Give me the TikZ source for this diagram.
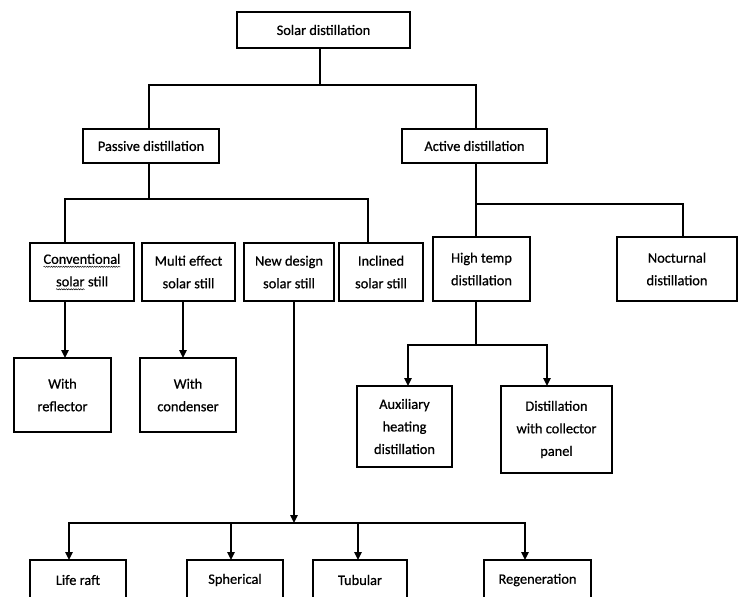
\documentclass[tikz,border=0pt]{standalone}
\usepackage{fontspec}
\setmainfont{Carlito}[FakeBold=0.7]
\usetikzlibrary{arrows.meta,decorations.pathmorphing}
\newcommand\wavy[1]{\tikz[baseline=(w.base),x=1cm,y=1cm]{\node[draw=none,inner sep=0pt,outer sep=0pt,minimum width=0pt,minimum height=0pt,align=left](w){#1};\draw[line width=0.35pt,decorate,decoration={snake,amplitude=0.45pt,segment length=1.8pt}]([yshift=-2.2pt]w.base west)--([yshift=-2.2pt]w.base east);}}
\begin{document}
\begin{tikzpicture}[x=0.75pt,y=-0.75pt,
  box/.style={draw,line width=1.2pt,align=center,inner sep=0pt,outer sep=0pt,
    font=\fontsize{10.8}{16.9}\selectfont},
  wh/.style 2 args={minimum width=#1*0.75pt,minimum height=#2*0.75pt},
  conn/.style={line width=1.1pt},
  arr/.style={conn,-{Triangle[length=6pt,width=5.5pt]}}]
\useasboundingbox (0,0) rectangle (742,596);
\clip (0,0) rectangle (742,596);
% nodes
\node[box,wh={173}{36}] (solar) at (323.5,30) {Solar distillation};
\node[box,wh={136}{34}] (passive) at (151,146) {Passive distillation};
\node[box,wh={145}{34}] (active) at (474.5,146) {Active distillation};
\node[box,wh={104}{58}] (conv) at (82,272) {\wavy{Conventional}\\\wavy{solar} still};
\node[box,wh={93}{58}] (multi) at (188.5,272) {Multi effect\\solar still};
\node[box,wh={90}{58}] (newd) at (289,272) {New design\\solar still};
\node[box,wh={84}{58}] (incl) at (381,272) {Inclined\\solar still};
\node[box,wh={97}{64}] (hight) at (481.5,269) {High temp\\distillation};
\node[box,wh={120}{64}] (noct) at (677,269) {Nocturnal\\distillation};
\node[box,wh={97}{74}] (refl) at (62.5,395) {With\\reflector};
\node[box,wh={96}{74}] (cond) at (188,395) {With\\condenser};
\node[box,wh={95}{81}] (aux) at (404.5,426.5) {Auxiliary\\heating\\distillation};
\node[box,wh={111}{87}] (coll) at (556.5,429.5) {Distillation\\with collector\\panel};
\node[box,wh={96}{40}] (life) at (78,580) {Life raft};
\node[box,wh={96}{40}] (sph) at (235,580) {Spherical};
\node[box,wh={94}{40}] (tub) at (360,580) {Tubular};
\node[box,wh={107}{40}] (regen) at (537.5,580) {Regeneration};
% helper coordinates
\coordinate (j0) at (320,85);
\coordinate (xp) at (149,0);
\coordinate (xa) at (476,0);
\coordinate (j1) at (149,199);
\coordinate (xc) at (65,0);
\coordinate (xi) at (368,0);
\coordinate (j2) at (476,204);
\coordinate (xn) at (683,0);
\coordinate (j3) at (476,345);
\coordinate (xau) at (408,0);
\coordinate (xco) at (547,0);
\coordinate (xm) at (183,0);
\coordinate (xd) at (294,0);
\coordinate (j4) at (294,523);
\coordinate (xl) at (69,0);
\coordinate (xs) at (231,0);
\coordinate (xt) at (358,0);
\coordinate (xr) at (525,0);
% connectors
\draw[conn] (solar.south -| j0) -- (j0);
\draw[conn] (passive.north -| xp) |- (j0) -| (active.north -| xa);
\draw[conn] (passive.south -| xp) -- (j1);
\draw[conn] (conv.north -| xc) |- (j1) -| (incl.north -| xi);
\draw[conn] (active.south -| xa) -- (hight.north -| xa);
\draw[conn] (j2) -| (noct.north -| xn);
\draw[conn] (hight.south -| xa) -- (j3);
\draw[arr] (j3) -| (aux.north -| xau);
\draw[arr] (j3) -| (coll.north -| xco);
\draw[arr] (conv.south -| xc) -- (refl.north -| xc);
\draw[arr] (multi.south -| xm) -- (cond.north -| xm);
\draw[arr] (newd.south -| xd) -- (j4);
\draw[arr] (j4) -| (life.north -| xl);
\draw[arr] (j4) -| (sph.north -| xs);
\draw[arr] (j4) -| (tub.north -| xt);
\draw[arr] (j4) -| (regen.north -| xr);
\end{tikzpicture}
\end{document}
